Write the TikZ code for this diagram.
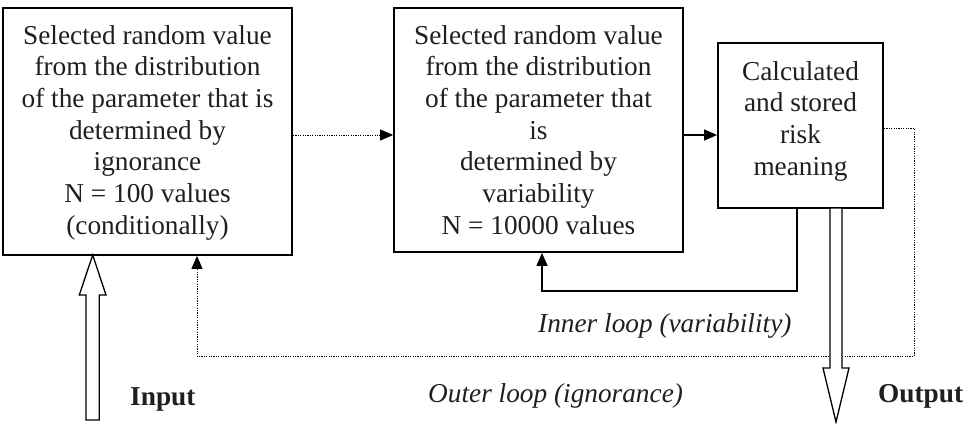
\documentclass[tikz,border=0pt]{standalone}
\usepackage{fontspec}
\setmainfont{Liberation Serif}
\usetikzlibrary{arrows.meta}
\begin{document}
\begin{tikzpicture}[x=1pt,y=-1pt,
  boxnode/.style={draw, line width=1.8pt, rectangle, inner sep=0pt},
  txt/.style={font=\fontsize{27.3}{31.7}\selectfont, align=center, inner sep=0pt, anchor=north, text=black!88},
  tip/.style={-{Triangle[length=13pt,width=11pt]}},
  conn/.style={line width=1.3pt, tip},
  dots/.style={line width=1pt, dash pattern=on 1.2pt off 1.2pt},
  hollow/.style={draw, line width=1.3pt, fill=white},
  lbl/.style={font=\fontsize{27.3}{31.7}\selectfont, inner sep=0pt, anchor=base west, text=black!88}]
\useasboundingbox (0,0) rectangle (966,423);
% boxes
\node[boxnode, minimum width=289pt, minimum height=247pt] (box1) at (147.5,131.5) {};
\node[boxnode, minimum width=289pt, minimum height=244pt] (box2) at (538.5,130) {};
\node[boxnode, minimum width=165pt, minimum height=165pt] (box3) at (800.5,125.5) {};
% texts
\node[txt] (t1) at (147.5,25) {Selected random value\\from the distribution\\of the parameter that is\\determined by\\ignorance\\N = 100 values\\(conditionally)};
\node[txt] (t2) at (538.5,25) {Selected random value\\from the distribution\\of the parameter that\\is\\determined by\\variability\\N = 10000 values};
\node[txt] (t3) at (800.5,61) {Calculated\\and stored\\risk\\meaning};
% helper coordinates
\coordinate (yA) at (0,135);
\coordinate (inA) at (797,291);
\coordinate (inB) at (542,291);
\coordinate (outA) at (914,128);
\coordinate (outB) at (914,356);
\coordinate (outC) at (197,356);
% connectors
\draw[dots, tip] (box1.east |- yA) -- (box2.west |- yA);
\draw[conn] (box2.east |- yA) -- (box3.west |- yA);
\draw[conn] (box3.south -| inA) -- (inA) -- (inB) -- (box2.south -| inB);
\draw[dots, tip] (box3.east |- outA) -- (outA) -- (outB) -- (outC) -- (box1.south -| outC);
% hollow input / output arrows
\draw[hollow] (86,420) -- (86,295) -- (79.3,295) -- (92.7,255) -- (106,295) -- (99.3,295) -- (99.3,420) -- cycle;
\draw[hollow] (830,208) -- (830,368) -- (823,368) -- (836,422) -- (849,368) -- (842,368) -- (842,208) -- cycle;
% labels
\node[lbl, font=\fontsize{27.3}{31.7}\selectfont\bfseries] (inlbl) at (130,405) {Input};
\node[lbl, font=\fontsize{27.3}{31.7}\selectfont\bfseries] (outlbl) at (878,402) {Output};
\node[lbl, font=\fontsize{27.3}{31.7}\selectfont\itshape] (inner) at (538,332) {Inner loop (variability)};
\node[lbl, font=\fontsize{27.3}{31.7}\selectfont\itshape] (outer) at (428,402) {Outer loop (ignorance)};
\end{tikzpicture}
\end{document}
